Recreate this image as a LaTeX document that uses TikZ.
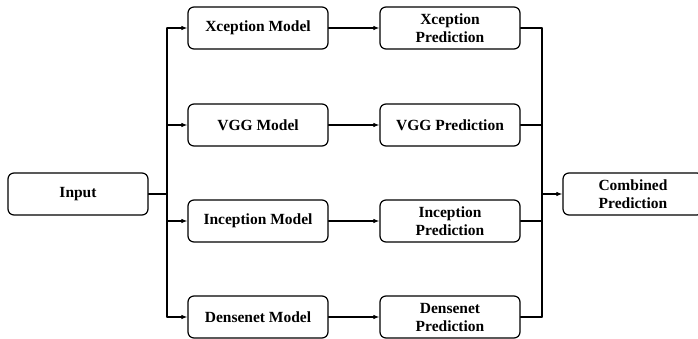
\documentclass[tikz,border=0pt]{standalone}
\usepackage{fontspec}
\setmainfont{Liberation Serif}
\usetikzlibrary{positioning,arrows.meta}

\tikzset{
  stagebox/.style={draw, rounded corners=6pt, line width=1.2pt, minimum width=140pt,
    minimum height=42pt, align=center, inner sep=1pt, font=\fontsize{15.5}{18}\selectfont\bfseries},
  link/.style={line width=1.1pt},
  feed/.style={link, -{Latex[length=6pt,width=4.5pt]}}
}

\begin{document}
\begin{tikzpicture}[x=1pt, y=-1pt, line cap=round, line join=round]

  \clip (0,0) rectangle (698,339);
  \useasboundingbox (0,0) rectangle (698,339);

  % ── Input and bus ───────────────────────────────────────────────────────────
  \node[stagebox] (input) at (78,194) {Input};
  \coordinate (busL) at (167,194);
  \draw[link] (input.east) -- (busL);
  \draw[link] (167,28) -- (167,317);

  % ── Models ──────────────────────────────────────────────────────────────────
  \node[stagebox] (xmod) at (258,28)  {Xception Model};
  \node[stagebox] (vmod) at (258,125) {VGG Model};
  \node[stagebox] (imod) at (258,221) {Inception Model};
  \node[stagebox] (dmod) at (258,317) {Densenet Model};

  % ── Predictions ─────────────────────────────────────────────────────────────
  \node[stagebox] (xpred) at (450,28)  {Xception\\Prediction};
  \node[stagebox] (vpred) at (450,125) {VGG Prediction};
  \node[stagebox] (ipred) at (450,221) {Inception\\Prediction};
  \node[stagebox] (dpred) at (450,317) {Densenet\\Prediction};

  % ── Combined ────────────────────────────────────────────────────────────────
  \node[stagebox] (comb) at (633,194) {Combined\\Prediction};
  \coordinate (busR) at (542,194);
  \draw[link] (542,28) -- (542,317);
  \draw[feed] (busR) -- (comb.west);

  % Connections
  \foreach \m/\p in {xmod/xpred, vmod/vpred, imod/ipred, dmod/dpred}{
    \draw[feed] (busL |- \m.west) -- (\m.west);
    \draw[feed] (\m.east) -- (\p.west);
    \draw[link] (\p.east) -- (busR |- \p.east);
  }

\end{tikzpicture}
\end{document}
